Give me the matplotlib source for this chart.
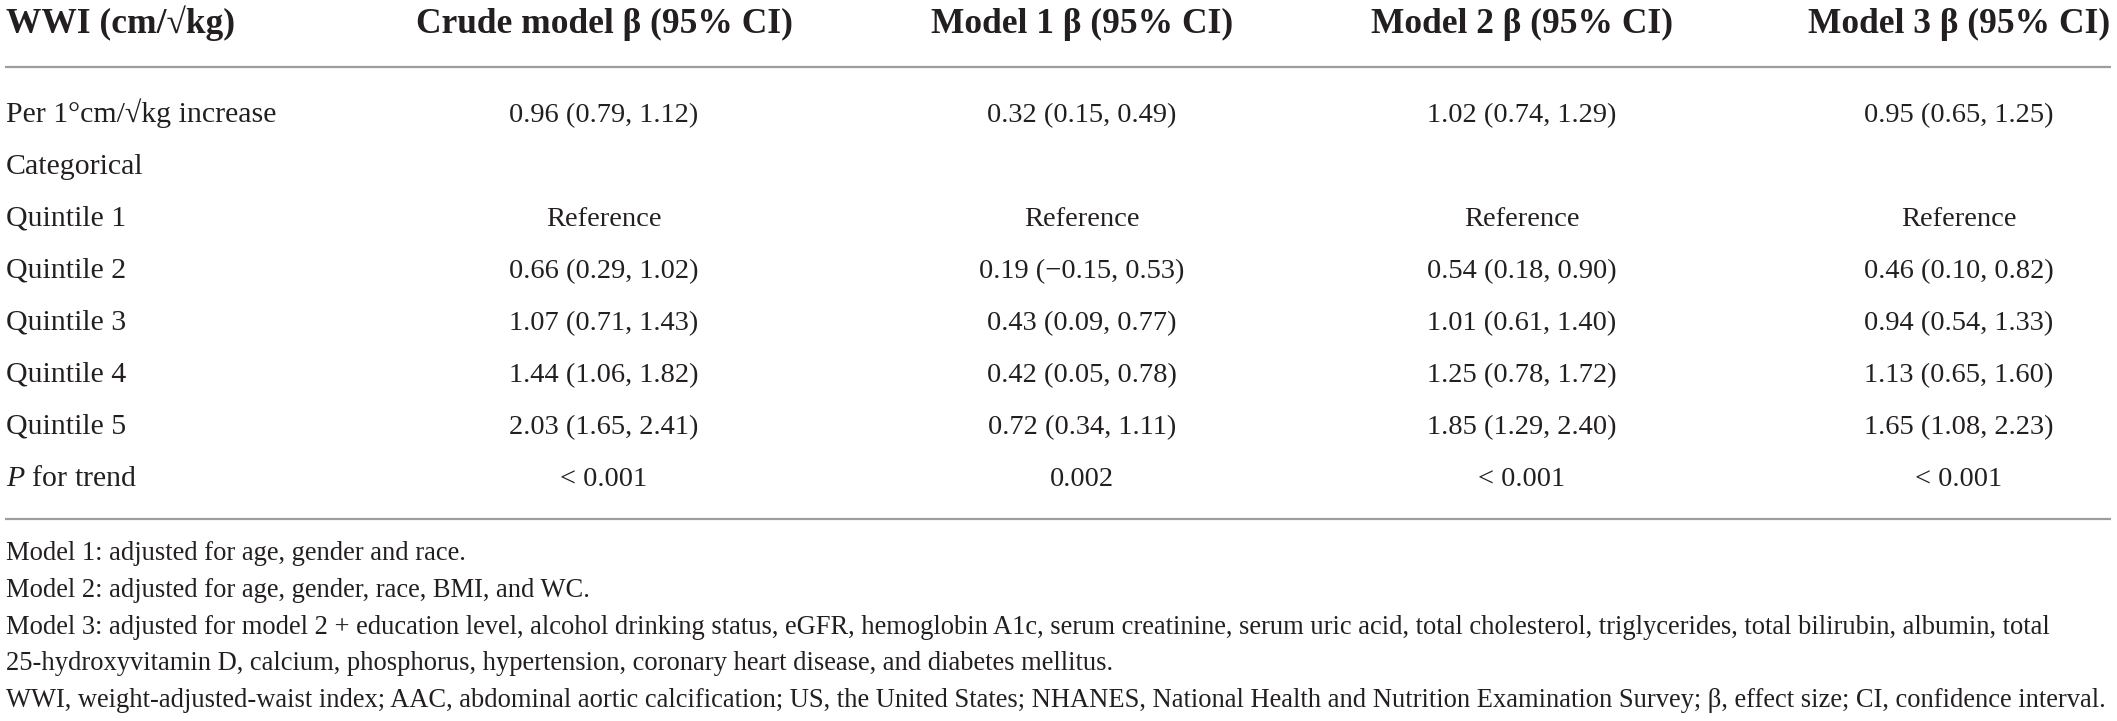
import matplotlib
matplotlib.use("Agg")
import matplotlib.pyplot as plt

plt.rcParams['font.family'] = ['Liberation Serif', 'DejaVu Serif']
plt.rcParams['mathtext.fontset'] = 'custom'
plt.rcParams['mathtext.it'] = 'Liberation Serif:italic'
plt.rcParams['mathtext.rm'] = 'Liberation Serif'

W, H = 2117, 721
INK = '#231f20'
RULE = '#9d9d9d'

headers = ["WWI (cm/\u221akg)", "Crude model \u03b2 (95% CI)", "Model 1 \u03b2 (95% CI)",
           "Model 2 \u03b2 (95% CI)", "Model 3 \u03b2 (95% CI)"]
row_labels = ["Per 1\u00b0cm/\u221akg increase", "Categorical", "Quintile 1", "Quintile 2",
              "Quintile 3", "Quintile 4", "Quintile 5", r"$P$ for trend"]

# beta, lower, upper for: per-1 increase, Q2..Q5  (Q1 is the reference)
crude_beta = [0.96, 0.66, 1.07, 1.44, 2.03]
crude_lo = [0.79, 0.29, 0.71, 1.06, 1.65]
crude_hi = [1.12, 1.02, 1.43, 1.82, 2.41]
m1_beta = [0.32, 0.19, 0.43, 0.42, 0.72]
m1_lo = [0.15, -0.15, 0.09, 0.05, 0.34]
m1_hi = [0.49, 0.53, 0.77, 0.78, 1.11]
m2_beta = [1.02, 0.54, 1.01, 1.25, 1.85]
m2_lo = [0.74, 0.18, 0.61, 0.78, 1.29]
m2_hi = [1.29, 0.90, 1.40, 1.72, 2.40]
m3_beta = [0.95, 0.46, 0.94, 1.13, 1.65]
m3_lo = [0.65, 0.10, 0.54, 0.65, 1.08]
m3_hi = [1.25, 0.82, 1.33, 1.60, 2.23]
p_trend = ["< 0.001", "0.002", "< 0.001", "< 0.001"]

footnotes = [
    "Model 1: adjusted for age, gender and race.",
    "Model 2: adjusted for age, gender, race, BMI, and WC.",
    "Model 3: adjusted for model 2 + education level, alcohol drinking status, eGFR, hemoglobin A1c, "
    "serum creatinine, serum uric acid, total cholesterol, triglycerides, total bilirubin, albumin, total",
    "25-hydroxyvitamin D, calcium, phosphorus, hypertension, coronary heart disease, and diabetes mellitus.",
    "WWI, weight-adjusted-waist index; AAC, abdominal aortic calcification; US, the United States; "
    "NHANES, National Health and Nutrition Examination Survey; \u03b2, effect size; CI, confidence interval.",
]


def fmt(b, lo, hi):
    s = f"{b:.2f} ({lo:.2f}, {hi:.2f})"
    return s.replace("-", "\u2212")


def column(beta, lo, hi, p):
    cells = [fmt(beta[0], lo[0], hi[0]), "", "Reference"]
    cells += [fmt(beta[i], lo[i], hi[i]) for i in range(1, 5)]
    cells.append(p)
    return cells


columns = [
    column(crude_beta, crude_lo, crude_hi, p_trend[0]),
    column(m1_beta, m1_lo, m1_hi, p_trend[1]),
    column(m2_beta, m2_lo, m2_hi, p_trend[2]),
    column(m3_beta, m3_lo, m3_hi, p_trend[3]),
]

fig = plt.figure(figsize=(W / 100, H / 100), dpi=100)
ax = fig.add_axes([0, 0, 1, 1])
ax.set_xlim(0, W)
ax.set_ylim(H, 0)
ax.axis('off')

left_x = 6
col_x = [604, 1082, 1522, 1959]
header_y = 33           # baselines, in pixels from top
row_y0, row_dy = 122, 52
foot_y0, foot_dy = 560, 36.8

ax.text(left_x, header_y, headers[0], ha='left', va='baseline', fontsize=25.5,
        fontweight='bold', color=INK)
for x, h in zip(col_x, headers[1:]):
    ax.text(x, header_y, h, ha='center', va='baseline', fontsize=25.5,
            fontweight='bold', color=INK)

ax.plot([5, 2111], [67, 67], color=RULE, lw=1.6, solid_capstyle='butt')
ax.plot([5, 2111], [519, 519], color=RULE, lw=1.6, solid_capstyle='butt')

for i, lab in enumerate(row_labels):
    y = row_y0 + i * row_dy
    ax.text(left_x, y, lab, ha='left', va='baseline', fontsize=21.5, color=INK)
    for x, col in zip(col_x, columns):
        if col[i]:
            ax.text(x, y, col[i], ha='center', va='baseline', fontsize=20.5, color=INK)

for j, line in enumerate(footnotes):
    ax.text(left_x, foot_y0 + j * foot_dy, line, ha='left', va='baseline',
            fontsize=19.1, color=INK)

fig.savefig("out.png", dpi=100)
